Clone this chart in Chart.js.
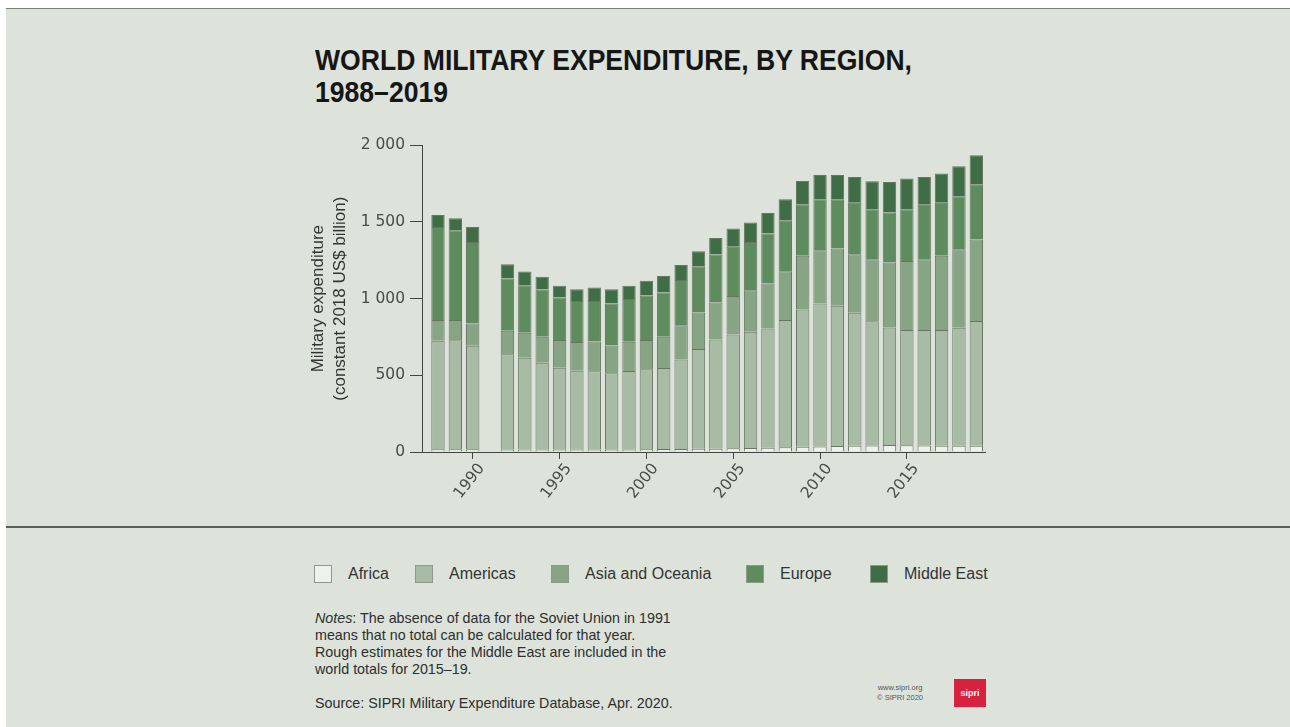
<!DOCTYPE html>
<html>
<head>
<meta charset="utf-8">
<script src="https://cdn.jsdelivr.net/npm/chart.js@4.4.1/dist/chart.umd.min.js"></script>
<style>
  html, body { margin: 0; padding: 0; background: #fff; }
  body { width: 1290px; height: 727px; position: relative; overflow: hidden; }
  #panel { position: absolute; left: 6px; top: 8px; width: 1284px; height: 719px;
           background: #dde3db; border-top: 1px solid #7d827b; }
  #sep { position: absolute; left: 6px; top: 526px; width: 1284px; height: 2px; background: #5b5e5a; }
  .title { position: absolute; left: 315px; font-family: "Liberation Sans Narrow", "Liberation Sans", Arial, sans-serif;
           font-weight: 700; font-size: 29px; line-height: 32px; color: #161616; white-space: nowrap;
           transform-origin: 0 0; }
  #wrap { position: absolute; left: 300px; top: 131px; width: 700px; height: 399px; }
  .leg { position: absolute; top: 565px; height: 18px; font-family: "Liberation Sans Narrow", "Liberation Sans", Arial, sans-serif;
         font-size: 16px; line-height: 18px; color: #333; white-space: nowrap; }
  .leg i { position: absolute; left: 0; top: 0; width: 16px; height: 16px; border: 1px solid #8c9a89; }
  .leg span { position: absolute; top: 0; }
  .notes { position: absolute; left: 315px; font-family: "Liberation Sans Narrow", "Liberation Sans", Arial, sans-serif;
           font-size: 14.3px; line-height: 17px; color: #2e2e2e; white-space: nowrap; }
  #web { position: absolute; left: 860px; top: 683px; width: 80px; text-align: center;
         font-family: "Liberation Sans", Arial, sans-serif; font-size: 7.5px; line-height: 10px; color: #555; }
  #logo { position: absolute; left: 954px; top: 679px; width: 32px; height: 28px; background: #d8203f;
          color: #fff; font-family: "Liberation Sans", Arial, sans-serif; font-weight: 700; font-size: 9px;
          line-height: 28px; text-align: center; }
</style>
</head>
<body>
<div id="panel"></div>
<div id="sep"></div>
<div class="title" id="t1" style="top:44px">WORLD MILITARY EXPENDITURE, BY REGION,</div>
<div class="title" id="t2" style="top:76px">1988–2019</div>
<div id="wrap"><canvas id="chart"></canvas></div>
<div id="legend"></div>
<div class="notes" style="top:610px"><i>Notes</i>: The absence of data for the Soviet Union in 1991<br>means that no total can be calculated for that year.<br>Rough estimates for the Middle East are included in the<br>world totals for 2015–19.</div>
<div class="notes" style="top:695px">Source: SIPRI Military Expenditure Database, Apr. 2020.</div>
<div id="web">www.sipri.org<br>© SIPRI 2020</div>
<div id="logo">sipri</div>
<script>
// constant 2018 US$ billion (no data for 1991)
const years = [1988, 1989, 1990, 1991, 1992, 1993, 1994, 1995, 1996, 1997, 1998, 1999, 2000, 2001, 2002, 2003,
               2004, 2005, 2006, 2007, 2008, 2009, 2010, 2011, 2012, 2013, 2014, 2015, 2016, 2017, 2018, 2019];
const africa = [18, 18, 18, null, 16, 16, 17, 17, 16, 16, 16, 17, 18, 19, 20, 21,
                22, 25, 26, 28, 31, 34, 36, 39, 40, 42, 46, 44, 42, 41, 40, 41];
const americas = [707, 710, 675, null, 621, 598, 565, 532, 514, 510, 497, 511, 521, 528, 584, 650,
                  712, 742, 758, 778, 829, 896, 933, 914, 868, 811, 766, 751, 753, 754, 770, 814];
const asiaOceania = [135, 132, 145, null, 153, 163, 169, 181, 187, 195, 182, 191, 191, 204, 223, 239,
                     241, 251, 271, 293, 319, 349, 347, 374, 382, 404, 424, 451, 462, 484, 512, 531];
const europe = [608, 586, 532, null, 341, 311, 309, 278, 267, 263, 274, 278, 291, 289, 294, 302,
                313, 320, 315, 326, 332, 337, 332, 321, 336, 326, 325, 337, 356, 347, 346, 360];
const middleEast = [78, 78, 98, null, 94, 89, 82, 76, 78, 89, 93, 87, 95, 107, 99, 97,
                    108, 119, 126, 134, 137, 152, 159, 159, 168, 182, 200, 200, 181, 190, 195, 189];

const regions = ['Africa', 'Americas', 'Asia and Oceania', 'Europe', 'Middle East'];
const colors = ['#eef2ec', '#a8bba5', '#87a485', '#5f8c5f', '#3f6d45'];
const yearTicks = [1990, 1995, 2000, 2005, 2010, 2015];
const yTicks = [0, 500, 1000, 1500, 2000];

// title: squeeze to the width of the original
const t1 = document.getElementById('t1');
const sx = 597 / t1.getBoundingClientRect().width;
t1.style.transform = 'scaleX(' + sx + ')';
document.getElementById('t2').style.transform = 'scaleX(' + sx + ')';

// legend
const legX = [314, 415, 551, 746, 870];
const legend = document.getElementById('legend');
regions.forEach((r, i) => {
    const d = document.createElement('div');
    d.className = 'leg';
    d.style.left = legX[i] + 'px';
    d.innerHTML = '<i style="background:' + colors[i] + '"></i><span style="left:34px">' + r + '</span>';
    legend.appendChild(d);
});

const series = [africa, americas, asiaOceania, europe, middleEast];
const axisFont = { family: 'DejaVu Sans', size: 15.5 };

new Chart(document.getElementById('chart'), {
    type: 'bar',
    data: {
        labels: years,
        datasets: series.map((s, i) => ({
            label: regions[i],
            data: s,
            backgroundColor: colors[i],
            borderColor: '#66765f',
            borderWidth: 1,
            categoryPercentage: 1,
            barPercentage: 0.77
        }))
    },
    options: {
        responsive: true,
        maintainAspectRatio: false,
        animation: false,
        layout: { padding: { top: 10, right: 15, left: 0, bottom: 0 } },
        plugins: { legend: { display: false }, tooltip: { enabled: false } },
        scales: {
            x: {
                type: 'linear',
                stacked: true,
                min: 1987.08,
                max: 2019.5,
                offset: false,
                afterBuildTicks: axis => { axis.ticks = yearTicks.map(v => ({ value: v })); },
                afterFit: axis => { axis.height = 78; },
                grid: { display: true, drawOnChartArea: false, offset: false, tickLength: 7, color: '#444' },
                border: { display: true, color: '#444', width: 1 },
                ticks: {
                    autoSkip: false, minRotation: 52, maxRotation: 52, padding: 1, labelOffset: 9,
                    color: '#4a4a4a', font: axisFont,
                    callback: v => String(v)
                }
            },
            y: {
                stacked: true,
                min: 0,
                max: 2000,
                afterBuildTicks: axis => { axis.ticks = yTicks.map(v => ({ value: v })); },
                afterFit: axis => { axis.width = 122; },
                grid: { display: true, drawOnChartArea: false, tickLength: 12, color: '#444' },
                border: { display: true, color: '#444', width: 1 },
                ticks: {
                    color: '#4a4a4a', font: axisFont, padding: 5,
                    callback: v => v >= 1000 ? Math.floor(v / 1000) + ' ' + String(v % 1000).padStart(3, '0') : String(v)
                },
                title: {
                    display: true,
                    text: ['Military expenditure', '(constant 2018 US$ billion)'],
                    color: '#333',
                    font: { family: 'Liberation Sans', size: 17, lineHeight: 1.3 },
                    padding: { top: 7, bottom: 0 }
                }
            }
        }
    }
});
</script>
</body>
</html>
